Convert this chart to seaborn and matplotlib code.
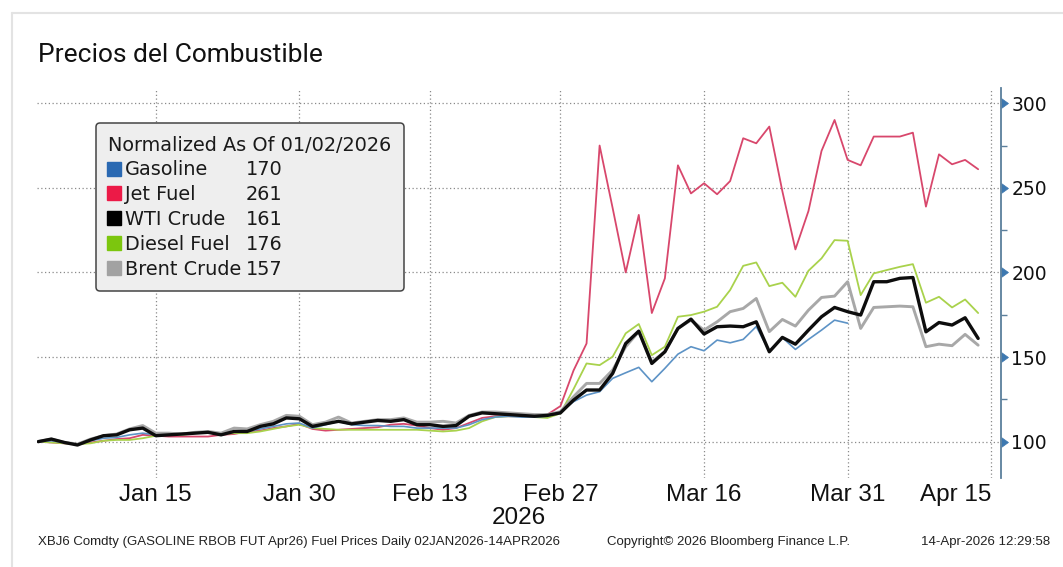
import pandas as pd
import matplotlib
matplotlib.use("Agg")
import matplotlib.pyplot as plt
from matplotlib.lines import Line2D
import seaborn as sns

sns.set_theme(style="white")
plt.rcParams["font.family"] = ["DejaVu Sans"]

# Daily fuel prices, normalized to 100 on 02-Jan-2026 (one value per weekday)
trade_days = pd.bdate_range("2026-01-02", "2026-04-14")

gasoline = [100, 100.5, 99.5, 98.5, 100.5, 102, 102.5, 104, 105, 104,
            104, 104.5, 105, 105.5, 105, 106, 106, 107.5, 109, 110.5,
            111, 108, 110, 112, 110, 109.5, 109.5, 109, 109, 108,
            108, 108, 108, 110, 113, 114.5, 115, 114.5, 114.5, 115,
            117.5, 123.6, 127.5, 129.5, 137.4, 140.7, 143.9, 135.4, 143.3, 151.7,
            156.1, 153.7, 160, 158.4, 160.4, 168, 153.5, 161.5, 154.5, 160.4,
            165.9, 171.8, 170, None, None, None, None, None, None, None,
            None, None, None]
jet_fuel = [100, 99.5, 99, 98.5, 99.5, 100.5, 101.5, 102, 104, 103.5,
            103, 103, 103, 103, 104, 104.5, 106, 106.5, 108, 109,
            110.5, 107.5, 106.5, 107, 107.5, 108, 108.5, 110, 110.5, 109.5,
            108, 107, 108, 111, 114, 115, 115, 115, 115, 116,
            121, 142, 158, 275, 238, 200, 234, 176, 196.5, 263.3,
            246.7, 252.7, 246.2, 254, 279.3, 276.3, 286.2, 248, 213.6, 236.3,
            271.8, 290.1, 266.5, 263.3, 280.3, 280.3, 280.3, 282.6, 238.9, 269.8,
            263.9, 266.5, 261]
wti_crude = [100, 101.5, 99.5, 98, 101, 103.5, 104, 107, 108, 103.5,
             104, 104.5, 105, 105.5, 104, 106, 106, 109, 110.5, 114,
             113.5, 109, 110.5, 112, 110.5, 111.5, 112.5, 112, 113, 110,
             110, 109, 109.5, 115, 117, 116.5, 116, 115.5, 115, 115.5,
             117, 124.5, 130.5, 130.5, 140.3, 158, 165.3, 146.2, 153.1, 166.9,
             172.4, 163.6, 167.9, 168.3, 167.9, 170.8, 153.1, 161.6, 157.6, 165.9,
             173.8, 179.3, 176.8, 174.8, 194.5, 194.5, 196.5, 197, 164.9, 170.4,
             168.9, 173.2, 161]
diesel_fuel = [100, 99.5, 99, 98.5, 99, 100.5, 101, 101, 102, 103.5,
               104, 104, 105, 105.5, 104.5, 105, 105, 106, 107.5, 109,
               110, 108, 107.5, 107, 107, 107, 107, 107, 107, 107,
               106.5, 106, 106.5, 108, 112, 114.5, 115, 115, 114.5, 114,
               116.7, 131, 146.2, 145.2, 150.2, 164, 169.5, 151.1, 156.1, 173.8,
               174.8, 176.8, 179.7, 189.6, 203.9, 205.9, 191.9, 193.9, 185.6, 201,
               208.3, 219.1, 218.7, 186.6, 199.4, 201.4, 203.3, 204.9, 182.1, 185.6,
               179.3, 184, 176]
brent_crude = [100, 101.5, 99.5, 98.5, 101.5, 103.5, 104.5, 107.5, 109.5, 105,
               105, 104.5, 105.5, 106, 105, 108, 107.5, 110, 112, 115.5,
               115, 110, 111.5, 114.5, 111, 112, 113, 113, 114, 111.5,
               111.5, 112, 111, 115.5, 117.5, 117.5, 117, 116.5, 116, 116,
               117.7, 126.5, 134.4, 134.4, 142.3, 156.1, 165, 147.2, 153.1, 166.9,
               171.8, 165.9, 170.8, 176.8, 178.7, 184.6, 165, 172.2, 168.3, 177.7,
               185.2, 186, 194.5, 166.9, 179.3, 179.7, 180.1, 179.7, 156.1, 157.6,
               156.7, 163.4, 157]

series_names = ["Gasoline", "Jet Fuel", "WTI Crude", "Diesel Fuel", "Brent Crude"]
series_values = [gasoline, jet_fuel, wti_crude, diesel_fuel, brent_crude]
key_colors = ["#2a69b2", "#ec1a47", "#000000", "#7cc60e", "#a2a2a2"]
line_colors = ["#5d93c6", "#d8476c", "#0d0d0d", "#a9d24c", "#a8a8a8"]
line_widths = [1.2, 1.3, 2.4, 1.3, 2.1]
draw_order = [1, 3, 0, 4, 2]

tick_dates = ["2026-01-15", "2026-01-30", "2026-02-13", "2026-02-27",
              "2026-03-16", "2026-03-31", "2026-04-15"]
tick_labels = ["Jan 15", "Jan 30", "Feb 13", "Feb 27", "Mar 16", "Mar 31", "Apr 15"]
y_ticks = [100, 150, 200, 250, 300]
y_minor = [125, 175, 225, 275]

frames = []
for name, vals in zip(series_names, series_values):
    frames.append(pd.DataFrame({"day": range(len(trade_days)), "date": trade_days,
                                "value": vals, "series": name}))
data = pd.concat(frames, ignore_index=True)
data["value"] = pd.to_numeric(data["value"])

axis_days = pd.bdate_range("2026-01-02", "2026-04-15")
tick_pos = [axis_days.get_loc(pd.Timestamp(d)) for d in tick_dates]

fig = plt.figure(figsize=(10.63, 5.67), dpi=100)
fig.patch.set_facecolor("white")
ax = fig.add_axes([37 / 1063, 89 / 567, 964 / 1063, 390 / 567])

for i in draw_order:
    sub = data[data["series"] == series_names[i]]
    sns.lineplot(data=sub, x="day", y="value", ax=ax, color=line_colors[i],
                 linewidth=line_widths[i], legend=False, zorder=3 + draw_order.index(i))

ax.set_xlim(-0.1, 73.75)
ax.set_ylim(78.5, 309)

# ticks and dotted grid
ax.set_xticks(tick_pos)
ax.set_xticklabels(tick_labels, family="Liberation Sans", fontsize=17.5, color="#111111")
# keep the last date label inside the plot's right edge
last_label = ax.get_xticklabels()[-1]
last_label.set_ha("right")
last_label.set_x(tick_pos[-1])
ax.set_yticks(y_ticks)
ax.set_yticks(y_minor, minor=True)
ax.set_yticklabels([str(v) for v in y_ticks], fontsize=13.5, color="#111111")
ax.grid(True, which="major", color="#8a8a8a", linestyle=(0, (1, 2)), linewidth=0.9)
ax.set_axisbelow(True)

for s in ["top", "left", "bottom"]:
    ax.spines[s].set_visible(False)
ax.spines["right"].set_visible(True)
ax.spines["right"].set_color("#5b7f9c")
ax.spines["right"].set_linewidth(1.3)

ax.yaxis.tick_right()
ax.tick_params(axis="x", length=0, pad=4)
ax.tick_params(axis="y", which="major", right=True, left=False, pad=1.5)
ax.tick_params(axis="y", which="minor", right=True, left=False, length=4,
               width=1, color="#5b7f9c", direction="out")
for t in ax.yaxis.get_major_ticks():
    t.tick2line.set_marker(9)
    t.tick2line.set_markersize(7)
    t.tick2line.set_markerfacecolor("#3d78b0")
    t.tick2line.set_markeredgecolor("#3d78b0")
    t.tick2line.set_markeredgewidth(0.5)

ax.set_xlabel("2026", family="Liberation Sans", fontsize=17.5, color="#111111", labelpad=1)
ax.set_ylabel("")

# legend: colour key, series name and latest value
key_handles = [Line2D([], [], marker="s", linestyle="none", markersize=9.5,
                      markerfacecolor=c, markeredgecolor=c) for c in key_colors]
blank_handles = [Line2D([], [], linestyle="none") for _ in series_names]
last_values = []
for vals in series_values:
    last = [v for v in vals if v is not None][-1]
    last_values.append(f"{last:.0f}")
leg = ax.legend(key_handles + blank_handles, series_names + last_values, ncol=2,
                title="Normalized As Of 01/02/2026", loc="upper left",
                bbox_to_anchor=(0.061, 0.91), borderaxespad=0, frameon=True,
                fancybox=True, framealpha=1, facecolor="#eeeeee", edgecolor="#444444",
                fontsize=13.9, title_fontsize=13.9, handlelength=0.55,
                handletextpad=0.3, columnspacing=-0.6, labelspacing=0.3,
                borderpad=0.65, alignment="left")
leg.get_frame().set_linewidth(1.1)
for txt in leg.get_texts():
    txt.set_color("#1a1a1a")
leg.get_title().set_color("#1a1a1a")
leg.set_zorder(10)

# title, footer and card outline
fig.text(38 / 1063, 1 - 55 / 567, "Precios del Combustible", family="Roboto",
         fontsize=19, va="center", ha="left", color="#111111")
foot_kw = dict(family="Liberation Sans", fontsize=9.5, va="center", color="#222222")
fig.text(38 / 1063, 1 - 542 / 567,
         "XBJ6 Comdty (GASOLINE RBOB FUT Apr26) Fuel Prices Daily 02JAN2026-14APR2026",
         ha="left", **foot_kw)
fig.text(607 / 1063, 1 - 542 / 567, "Copyright\u00a9 2026 Bloomberg Finance L.P.",
         ha="left", **foot_kw)
fig.text(1050 / 1063, 1 - 542 / 567, "14-Apr-2026 12:29:58", ha="right", **foot_kw)
fig.add_artist(Line2D([12 / 1063, 1], [1 - 13 / 567, 1 - 13 / 567],
                      transform=fig.transFigure, color="#e3e3e3", linewidth=1.5))
fig.add_artist(Line2D([12 / 1063, 12 / 1063], [0, 1 - 13 / 567],
                      transform=fig.transFigure, color="#e3e3e3", linewidth=1.5))

fig.savefig("out.png", dpi=100)
